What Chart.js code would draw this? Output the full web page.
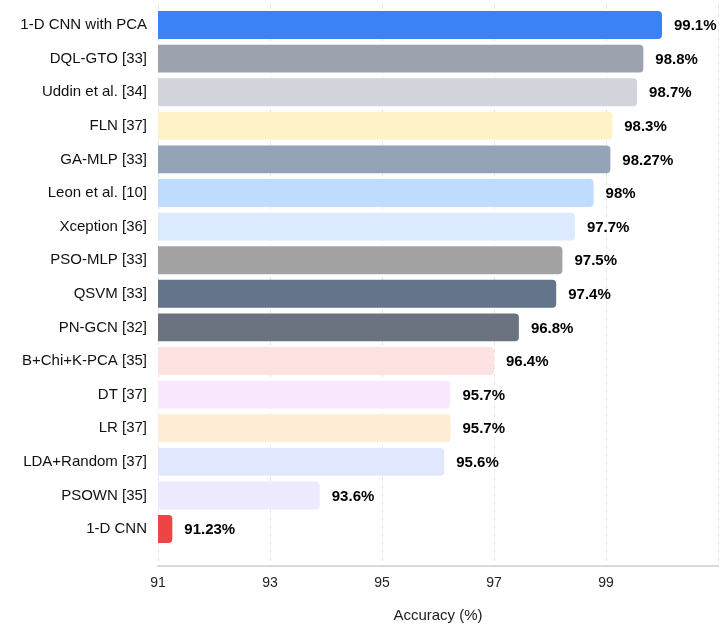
<!DOCTYPE html>
<html>
<head>
<meta charset="utf-8">
<script src="https://cdn.jsdelivr.net/npm/chart.js@4"></script>
<style>
  html, body { margin: 0; padding: 0; background: #fff; }
  #wrap { width: 726px; height: 630px; position: relative; }
</style>
</head>
<body>
<div id="wrap"><canvas id="c"></canvas></div>
<script>
const categories = [
  "1-D CNN with PCA", "DQL-GTO [33]", "Uddin et al. [34]", "FLN [37]", "GA-MLP [33]",
  "Leon et al. [10]", "Xception [36]", "PSO-MLP [33]", "QSVM [33]", "PN-GCN [32]",
  "B+Chi+K-PCA [35]", "DT [37]", "LR [37]", "LDA+Random [37]", "PSOWN [35]", "1-D CNN"
];
const accuracy = [99.1, 98.8, 98.7, 98.3, 98.27, 98, 97.7, 97.5, 97.4, 96.8, 96.4, 95.7, 95.7, 95.6, 93.6, 91.23];
const barColors = [
  "#3b82f6", "#9ca3af", "#d1d5db", "#fef3c7", "#94a3b8",
  "#bfdbfe", "#dbeafe", "#a3a3a3", "#64748b", "#6b7280",
  "#fee2e2", "#fae8ff", "#ffedd5", "#e0e7ff", "#ede9fe", "#ef4444"
];
const xTickValues = [91, 93, 95, 97, 99];
const axisTitle = "Accuracy (%)";

const FONT = '"Liberation Sans", Arial, Helvetica, sans-serif';

const valueLabels = {
  id: 'valueLabels',
  afterDatasetsDraw(chart) {
    const ctx = chart.ctx;
    const meta = chart.getDatasetMeta(0);
    ctx.save();
    ctx.font = 'bold 15px ' + FONT;
    ctx.fillStyle = '#000';
    ctx.textAlign = 'left';
    ctx.textBaseline = 'middle';
    meta.data.forEach((el, i) => {
      ctx.fillText(accuracy[i] + '%', el.x + 12, el.y + 1);
    });
    ctx.restore();
  }
};

new Chart(document.getElementById('c'), {
  type: 'bar',
  data: {
    datasets: [{
      data: accuracy.map((v, i) => ({ x: v, y: i })),
      backgroundColor: barColors,
      borderWidth: 0,
      borderRadius: 4,
      borderSkipped: false,
      barPercentage: 0.83,
      categoryPercentage: 1.0,
      xAxisID: 'x',
      yAxisID: 'y'
    }]
  },
  options: {
    indexAxis: 'y',
    responsive: true,
    maintainAspectRatio: false,
    animation: false,
    layout: { padding: { top: 5, right: 8, bottom: 1, left: 0 } },
    plugins: { legend: { display: false }, tooltip: { enabled: false } },
    scales: {
      x: {
        type: 'linear',
        display: false,
        min: 91,
        max: 100
      },
      xAxis: {
        type: 'linear',
        position: 'bottom',
        min: 91,
        max: 101,
        afterBuildTicks: s => { s.ticks = xTickValues.concat([101]).map(v => ({ value: v })); },
        afterFit: s => { s.height = 63; s.paddingLeft = 0; s.paddingRight = 0; },
        ticks: {
          callback: v => xTickValues.includes(v) ? String(v) : '',
          font: { family: FONT, size: 14 },
          color: '#222',
          padding: 9,
          maxRotation: 0,
          autoSkip: false
        },
        grid: {
          display: true,
          drawTicks: false,
          color: '#e6e6e6',
          lineWidth: 1
        },
        border: { display: true, color: '#d9d9d9', width: 2, dash: [4, 4] },
        title: {
          display: true,
          text: axisTitle,
          font: { family: FONT, size: 15 },
          color: '#222',
          padding: { top: 15, bottom: 4 }
        }
      },
      y: {
        type: 'linear',
        reverse: true,
        offset: false,
        min: -0.595,
        max: 16.1,
        afterBuildTicks: s => { s.ticks = categories.map((_, i) => ({ value: i })); },
        afterFit: s => { s.width = 158; s.paddingTop = 0; s.paddingBottom = 0; },
        ticks: {
          callback: v => categories[v] ?? '',
          font: { family: FONT, size: 15 },
          color: '#111',
          padding: 11,
          autoSkip: false
        },
        grid: { display: false, drawTicks: false, offset: false },
        border: { display: false }
      }
    }
  },
  plugins: [valueLabels]
});
</script>
</body>
</html>
